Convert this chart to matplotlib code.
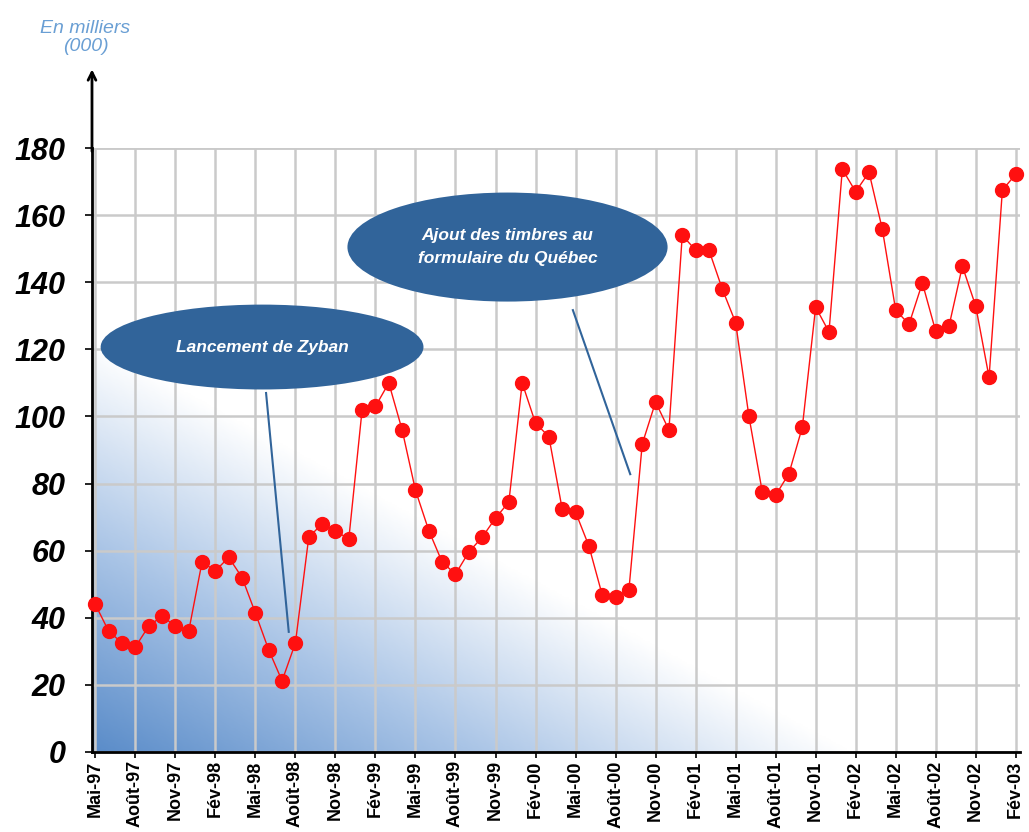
"""Monthly volume chart (in thousands), Mai-97 to Fév-03, with two annotations."""

import numpy as np
import matplotlib.pyplot as plt
from matplotlib.colors import LinearSegmentedColormap
from matplotlib.patches import Ellipse

# monthly values, Mai-97 .. Fév-03 (in thousands)
values = [
    44, 36, 32.5, 31.3, 37.5, 40.5, 37.5, 36, 56.6, 54,
    58, 52, 41.4, 30.4, 21.2, 32.5, 64, 68, 66, 63.4,
    102, 103, 110, 96, 78, 66, 56.6, 53, 59.6, 64,
    69.7, 74.5, 110, 98, 94, 72.4, 71.5, 61.4, 46.8, 46.2,
    48.3, 91.8, 104.3, 96, 154, 149.6, 149.6, 138, 128, 100,
    77.5, 76.5, 83, 96.8, 132.6, 125.2, 173.7, 167, 172.8, 155.8,
    131.7, 127.5, 139.8, 125.4, 127, 144.8, 132.9, 111.7, 167.5, 172.2,
]

tick_labels = [
    "Mai-97", "Août-97", "Nov-97", "Fév-98", "Mai-98", "Août-98",
    "Nov-98", "Fév-99", "Mai-99", "Août-99", "Nov-99", "Fév-00",
    "Mai-00", "Août-00", "Nov-00", "Fév-01", "Mai-01", "Août-01",
    "Nov-01", "Fév-02", "Mai-02", "Août-02", "Nov-02", "Fév-03",
]

y_ticks = [0, 20, 40, 60, 80, 100, 120, 140, 160, 180]

# annotations: text, ellipse centre/size, pointer line (data coords)
notes = [
    ("Lancement de Zyban", (12.5, 120.7), 24.2, 25.3, (12.8, 107), (14.5, 35.8)),
    ("Ajout des timbres au\nformulaire du Québec", (30.9, 150.5), 24.0, 32.5,
     (35.8, 131.7), (40.1, 82.8)),
]

BLUE = "#31649a"
FONT = ["Liberation Sans", "DejaVu Sans"]

x = np.arange(len(values))

fig = plt.figure(figsize=(10.29, 8.32), dpi=100)
ax = fig.add_axes([0.0894, 0.0962, 0.9016, 0.7258])
ax.set_xlim(-0.25, 69.3)
ax.set_ylim(0, 180)

# diagonal blue -> white gradient from the bottom-left corner
gx, gy = np.meshgrid(np.linspace(0, 1, 400), np.linspace(0, 1, 400))
t = np.clip(gx / 0.82 + gy / 0.68, 0, 1)
cmap = LinearSegmentedColormap.from_list(
    "bg", [(0, "#5a8cc9"), (0.5, "#a9c4e6"), (1, "#ffffff")])
ax.imshow(t, cmap=cmap, origin="lower", aspect="auto",
          extent=[0, 1, 0, 1], transform=ax.transAxes, zorder=0)

ax.set_xticks(x[::3])
ax.set_xticklabels(tick_labels, rotation=90, fontsize=13, fontweight="bold",
                   family=FONT)
ax.set_yticks(y_ticks)
ax.set_yticklabels([str(v) for v in y_ticks], fontsize=22, fontweight="bold",
                   style="italic", family=FONT)
ax.tick_params(axis="x", length=4, width=1.2, pad=2)
ax.tick_params(axis="y", length=5, width=1.2, pad=14)

ax.grid(True, color="#cacaca", linewidth=1.8, zorder=1)
ax.set_axisbelow(True)
for side in ("top", "right"):
    ax.spines[side].set_visible(False)
for side in ("left", "bottom"):
    ax.spines[side].set_linewidth(2)
ax.axhline(180, color="#cacaca", linewidth=1.8, zorder=1)

ax.plot(x, values, color="#ff1010", linewidth=1.0, marker="o",
        markersize=10, markerfacecolor="#ff1010", markeredgecolor="#ff1010",
        zorder=4, clip_on=False)

for text, centre, w, h, p0, p1 in notes:
    ax.plot([p0[0], p1[0]], [p0[1], p1[1]], color=BLUE, linewidth=1.5, zorder=3)
    ax.add_patch(Ellipse(centre, w, h, facecolor=BLUE, edgecolor="none", zorder=5))
    ax.text(centre[0], centre[1], text, color="white", fontsize=12.5,
            fontweight="bold", style="italic", ha="center", va="center",
            linespacing=1.6, family=FONT, zorder=6)

# y axis arrow above the plot
ax.annotate("", xy=(0, 1.135), xytext=(0, 0.99), xycoords="axes fraction",
            arrowprops=dict(arrowstyle="->", color="black", lw=2,
                            mutation_scale=14), annotation_clip=False)

fig.text(0.083, 0.955, "En milliers\n(000)", color="#6a9fd4", fontsize=14,
         style="italic", ha="center", va="center", linespacing=1.1, family=FONT)

fig.savefig("out.png", dpi=100)
